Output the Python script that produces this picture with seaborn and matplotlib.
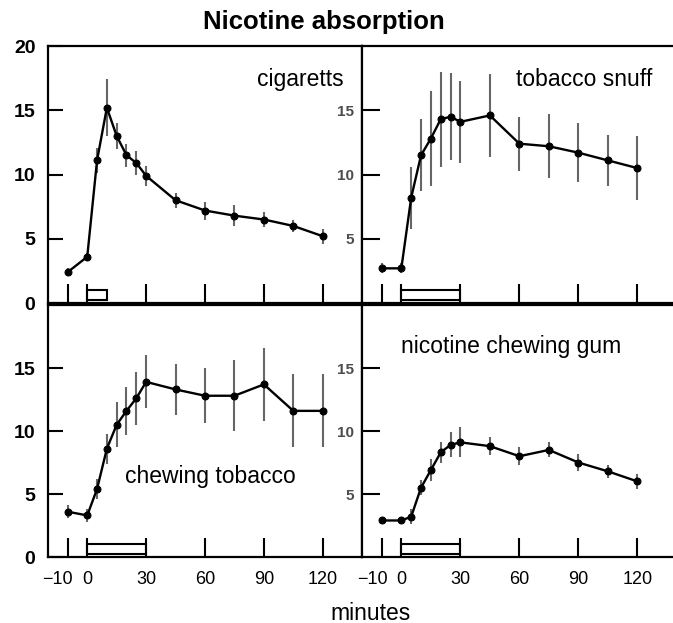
import matplotlib.pyplot as plt
import matplotlib.patches as patches
import matplotlib.transforms as mtransforms
import seaborn as sns

# minutes after start of use
minutes = [-10, 0, 5, 10, 15, 20, 25, 30, 45, 60, 75, 90, 105, 120]
tick_minutes = [-10, 0, 30, 60, 90, 120]
tick_labels = ['\u221210', '0', '30', '60', '90', '120']

# blood nicotine
cig_mean = [2.4, 3.6, 11.1, 15.2, 13.0, 11.5, 10.9, 9.9, 8.0, 7.2, 6.8, 6.5, 6.0, 5.2]
cig_err = [0.3, 0.3, 1.0, 2.2, 1.0, 0.9, 0.9, 0.8, 0.6, 0.7, 0.8, 0.6, 0.5, 0.6]

snuff_mean = [2.7, 2.7, 8.2, 11.5, 12.8, 14.3, 14.5, 14.1, 14.6, 12.4, 12.2, 11.7, 11.1, 10.5]
snuff_err = [0.4, 0.4, 2.4, 2.8, 3.7, 3.7, 3.4, 3.2, 3.2, 2.1, 2.5, 2.3, 2.0, 2.5]

chew_mean = [3.6, 3.3, 5.4, 8.6, 10.5, 11.6, 12.6, 13.9, 13.3, 12.8, 12.8, 13.7, 11.6, 11.6]
chew_err = [0.5, 0.5, 0.8, 1.2, 1.8, 1.9, 2.1, 2.1, 2.0, 2.2, 2.8, 2.9, 2.9, 2.9]

gum_mean = [2.9, 2.9, 3.2, 5.5, 6.9, 8.3, 8.9, 9.1, 8.8, 8.0, 8.5, 7.5, 6.8, 6.0]
gum_err = [0.3, 0.3, 0.6, 0.6, 0.9, 0.8, 1.0, 1.2, 0.7, 0.7, 0.6, 0.7, 0.5, 0.6]

sns.set_style('ticks')
plt.rcParams['font.family'] = ['Liberation Sans', 'DejaVu Sans']
plt.rcParams['text.color'] = 'black'
plt.rcParams['axes.edgecolor'] = 'black'
plt.rcParams['xtick.color'] = 'black'
plt.rcParams['ytick.color'] = 'black'
plt.rcParams['xtick.labelcolor'] = 'black'
plt.rcParams['ytick.labelcolor'] = 'black'

fig = plt.figure(figsize=(6.73, 6.23), dpi=100)
fig.patch.set_facecolor('white')

L = [0.0713, 0.4666]
R = [0.5379, 0.4621]
T = [0.5136, 0.4125]
B = [0.1059, 0.4045]

panels = [
    # name, mean, err, use duration, axes rect, label pos, is_left, is_bottom
    ('cigaretts', cig_mean, cig_err, 10, [L[0], T[0], L[1], T[1]], (0.803, 0.868), True, False),
    ('tobacco snuff', snuff_mean, snuff_err, 30, [R[0], T[0], R[1], T[1]], (0.714, 0.868), False, False),
    ('chewing tobacco', chew_mean, chew_err, 30, [L[0], B[0], L[1], B[1]], (0.516, 0.321), True, True),
    ('nicotine chewing gum', gum_mean, gum_err, 30, [R[0], B[0], R[1], B[1]], (0.481, 0.835), False, True),
]

# nudge the "-10" label left so it doesn't run into "0"
shift = mtransforms.ScaledTranslation(-7 / 72, 0, fig.dpi_scale_trans)

for name, mean, err, dur, rect, pos, is_left, is_bottom in panels:
    ax = fig.add_axes(rect)
    ax.errorbar(minutes, mean, yerr=err, fmt='none', ecolor='0.4',
                elinewidth=1.5, capsize=0, zorder=2)
    sns.lineplot(x=minutes, y=mean, ax=ax, color='black', lw=1.7,
                 marker='o', markersize=5, markeredgecolor='black',
                 errorbar=None, zorder=3)
    # bar showing how long the product was used
    ax.add_patch(patches.Rectangle((0, 0.25), dur, 0.75, fill=False,
                                   ec='black', lw=1.5, zorder=2))

    ax.set_ylim(0, 20)
    if is_left:
        ax.set_xlim(-20, 140)
    else:
        ax.set_xlim(-20, 138.1)
        ax.spines['right'].set_visible(False)

    ax.set_xticks(tick_minutes)
    ax.tick_params(axis='x', direction='in', length=14, width=1.5, pad=10,
                   labelsize=13, labelbottom=is_bottom)
    if is_bottom:
        ax.set_xticklabels(tick_labels)
        lab = ax.get_xticklabels()[0]
        lab.set_transform(lab.get_transform() + shift)

    if is_left:
        yt = [0, 5, 10, 15, 20] if not is_bottom else [0, 5, 10, 15]
        ax.set_yticks(yt)
        ax.set_yticklabels([str(v) for v in yt], fontweight='bold')
        ax.tick_params(axis='y', direction='in', length=11, width=1.5,
                       pad=9, labelsize=14)
    else:
        yt = [5, 10, 15]
        ax.set_yticks(yt)
        ax.set_yticklabels([str(v) for v in yt], fontweight='bold', color='0.3')
        ax.tick_params(axis='y', direction='in', length=13, width=1.5,
                       pad=6, labelsize=11)

    for s in ax.spines.values():
        s.set_linewidth(1.6)
        s.set_color('black')
    ax.set_xlabel('')
    ax.set_ylabel('')
    ax.text(pos[0], pos[1], name, transform=ax.transAxes, ha='center',
            va='center', fontsize=16.5)

fig.text(0.481, 0.965, 'Nicotine absorption', ha='center', va='center',
         fontsize=18.5, fontweight='bold')
fig.text(0.55, 0.016, 'minutes', ha='center', va='center', fontsize=16.5)

fig.savefig('out.png', dpi=100)
